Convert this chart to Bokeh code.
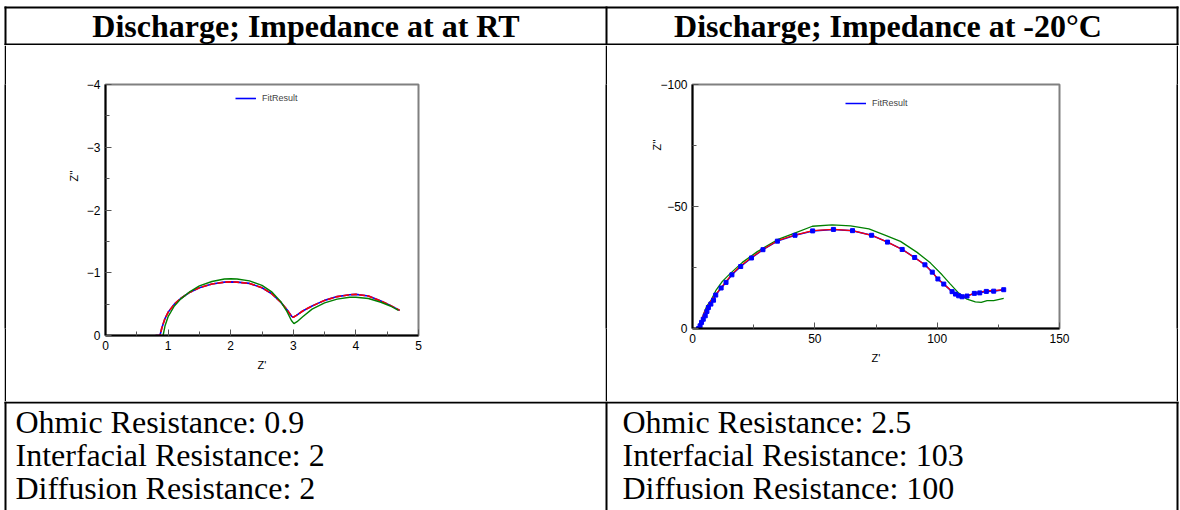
from bokeh.plotting import figure
from bokeh.layouts import column, row
from bokeh.models import Range1d, SingleIntervalTicker, Spacer, Title
from bokeh.core.properties import value
from bokeh.embed import file_html
from bokeh.resources import INLINE

# ---------------- data ----------------
header_texts = ["Discharge; Impedance at at RT", "Discharge; Impedance at  -20\u00b0C"]
left_rows = ["Ohmic Resistance:  0.9", "Interfacial Resistance: 2", "Diffusion Resistance: 2"]
right_rows = ["Ohmic Resistance:  2.5", "Interfacial Resistance: 103", "Diffusion Resistance: 100"]

# Room temperature (left chart)
rt_red_x = [0.80, 0.87, 0.90, 0.95, 1.0, 1.1, 1.2, 1.35, 1.5, 1.7, 1.9, 2.0, 2.1, 2.3, 2.5, 2.65,
            2.8, 2.9, 2.97, 3.0, 3.05, 3.15, 3.3, 3.5, 3.7, 3.9, 4.0, 4.2, 4.4, 4.55, 4.7]
rt_red_y = [0.0, 0.0, -0.12, -0.27, -0.37, -0.50, -0.59, -0.69, -0.76, -0.82, -0.85, -0.855, -0.85,
            -0.83, -0.76, -0.67, -0.53, -0.41, -0.31, -0.29, -0.32, -0.39, -0.47, -0.56, -0.62, -0.65,
            -0.655, -0.63, -0.55, -0.48, -0.40]
rt_fit_x = rt_red_x
rt_fit_y = rt_red_y
rt_green_x = [0.92, 0.95, 1.0, 1.1, 1.2, 1.35, 1.5, 1.7, 1.9, 2.0, 2.1, 2.3, 2.5, 2.65, 2.8, 2.9,
              2.97, 3.01, 3.06, 3.15, 3.3, 3.5, 3.7, 3.9, 4.0, 4.2, 4.4, 4.55, 4.68]
rt_green_y = [0.0, -0.15, -0.30, -0.47, -0.58, -0.70, -0.79, -0.86, -0.90, -0.905, -0.90, -0.87,
              -0.80, -0.70, -0.54, -0.38, -0.24, -0.19, -0.22, -0.30, -0.42, -0.52, -0.58, -0.61,
              -0.61, -0.59, -0.53, -0.47, -0.40]

# -20 C (right chart)
lt_fit_x = [2.5, 3.1, 3.7, 4.4, 5.2, 5.9, 6.5, 7.5, 8.6, 9.5, 11.7, 13.7, 16.1, 19.7, 24.1, 28.8,
            34.7, 41.9, 49.1, 57.6, 65.4, 73.2, 79.7, 85.7, 90.8, 95.0, 98.0, 100.3, 102.7, 106.1,
            107.5, 108.8, 110.2, 112.2, 115.2, 117.4, 120.1, 123.1, 127.2]
lt_fit_y = [0.0, -1.1, -2.5, -3.8, -5.2, -7.0, -8.6, -10.0, -11.6, -13.7, -16.6, -18.9, -22.0,
            -25.4, -28.9, -32.3, -35.8, -38.2, -40.0, -40.6, -40.1, -38.2, -35.4, -32.4, -29.1,
            -26.1, -23.1, -20.3, -18.2, -15.1, -14.1, -13.4, -13.0, -13.3, -14.4, -14.6, -15.2,
            -15.3, -15.9]
lt_red_x = [2.5, 4.8, 7.5, 11.6, 16.1, 19.7, 24.1, 28.8, 34.7, 41.9, 49.1, 57.6, 65.4, 73.2, 79.7,
            85.7, 90.7, 95.0, 98.0, 100.3, 102.7, 104.8, 106.1, 107.9, 110.2, 112.2, 115.0, 117.4,
            120.1, 123.1, 127.2]
lt_red_y = [0.0, -6.6, -11.4, -16.6, -22.3, -25.7, -29.1, -32.4, -36.0, -38.3, -40.1, -40.6, -40.1,
            -38.2, -35.4, -32.4, -29.1, -26.1, -23.1, -20.2, -18.2, -16.4, -15.0, -13.8, -13.0,
            -13.3, -14.4, -14.8, -15.5, -15.5, -15.9]
lt_green_x = [2.3, 3.4, 4.8, 5.9, 7.5, 9.5, 12.2, 15.6, 20.4, 26.5, 34.7, 41.5, 49.0, 57.1, 64.6,
              72.1, 78.9, 85.0, 91.8, 97.3, 102.0, 105.4, 108.8, 112.2, 115.6, 118.0, 120.4, 123.1,
              127.2]
lt_green_y = [0.0, -2.5, -6.6, -9.3, -11.4, -15.5, -19.3, -22.7, -27.1, -31.5, -36.4, -39.0, -41.9,
              -42.5, -42.1, -40.8, -38.2, -35.7, -31.2, -26.8, -22.0, -18.2, -14.5, -12.0, -10.9,
              -10.7, -11.4, -11.4, -12.3]

RED, BLUE, GREEN = "#ff0000", "#0000ff", "#008000"
SANS = "Liberation Sans"
SERIF = "Liberation Serif"

# ---------------- layout constants ----------------
W, H = 1180, 510
HEAD_H = 45
ROW_H = 356
TEXT_H = H - HEAD_H - ROW_H
VX = [5, 606, 1177]


def canvas(height, y0, y1):
    p = figure(width=W, height=height, x_range=Range1d(0, W), y_range=Range1d(y1, y0),
               output_backend="svg", toolbar_location=None, min_border=0,
               x_axis_location=None, y_axis_location=None)
    p.outline_line_color = None
    p.background_fill_color = "white"
    p.border_fill_color = "white"
    p.grid.visible = False
    return p


# header
head = canvas(HEAD_H, 0, HEAD_H)
head.segment(x0=[4, 4], y0=[7, 44], x1=[1178, 1178], y1=[7, 44],
             line_color="black", line_width=2)
head.segment(x0=VX, y0=[6] * 3, x1=VX, y1=[HEAD_H] * 3, line_color="black", line_width=2)
head.text(x=[305.5, 891.5], y=[25, 25], text=header_texts, text_font=value(SERIF),
          text_font_style="bold", text_font_size="32px", text_align="center",
          text_baseline="alphabetic", text_color="black")

# bottom text rows
foot = canvas(TEXT_H, HEAD_H + ROW_H, H)
foot.segment(x0=[4], y0=[402], x1=[1178], y1=[402], line_color="black", line_width=2)
foot.segment(x0=VX, y0=[HEAD_H + ROW_H] * 3, x1=VX, y1=[H] * 3, line_color="black", line_width=2)
foot.text(x=[15] * 3 + [622] * 3, y=[421, 454, 487] * 2, text=left_rows + right_rows,
          text_font=value(SERIF), text_font_size="32px", text_align="left",
          text_baseline="alphabetic", text_color="black")


def style_axes(p):
    for ax in (p.xaxis[0], p.yaxis[0]):
        ax.axis_line_color = "black"
        ax.axis_line_width = 2
        ax.major_tick_in = 6
        ax.major_tick_out = 0
        ax.minor_tick_in = 4
        ax.minor_tick_out = 0
        ax.major_tick_line_color = "#555555"
        ax.minor_tick_line_color = "#555555"
        ax.major_label_text_font = SANS
        ax.major_label_text_font_size = "12px"
        ax.major_label_text_color = "black"
        ax.major_label_standoff = 5
        ax.axis_label_text_font = SANS
        ax.axis_label_text_font_size = "11px"
        ax.axis_label_text_font_style = "normal"
        ax.axis_label_text_color = "black"
        ax.axis_label_standoff = 6
    p.xgrid.visible = False
    p.ygrid.visible = False
    p.outline_line_color = "#808080"
    p.outline_line_width = 2
    p.background_fill_color = "white"
    p.border_fill_color = "white"


def y_title(p, offset, standoff):
    # vertical axis title "Z''", anchored at the top of the frame and moved down by offset
    t = Title(text="Z''", align="right", offset=offset, standoff=standoff,
              text_font=SANS, text_font_size="11px", text_font_style="normal",
              text_color="black")
    p.add_layout(t, "left")


def style_legend(p, loc):
    lg = p.legend[0]
    lg.location = loc
    lg.border_line_color = None
    lg.background_fill_alpha = 0
    lg.label_text_font = SANS
    lg.label_text_font_size = "9px"
    lg.glyph_width = 21
    lg.glyph_height = 10
    lg.padding = 0
    lg.margin = 0
    lg.spacing = 0
    lg.label_standoff = 6
    lg.label_height = 10


# left chart
left = figure(frame_width=313, frame_height=251, min_border_left=99, min_border_right=187,
              min_border_top=35, min_border_bottom=70, x_range=Range1d(0, 5), y_range=Range1d(0, -4),
              output_backend="svg", toolbar_location=None, x_axis_label="Z'")
left.xaxis.ticker = SingleIntervalTicker(interval=1, num_minor_ticks=2)
left.yaxis.ticker = SingleIntervalTicker(interval=1, num_minor_ticks=2)
style_axes(left)
left.line(rt_fit_x, rt_fit_y, line_color=BLUE, line_width=1.6, legend_label="FitResult")
left.line(rt_red_x, rt_red_y, line_color=RED, line_width=1.6, line_dash="6 2")
left.line(rt_green_x, rt_green_y, line_color=GREEN, line_width=1.4)
y_title(left, 86, 8)
style_legend(left, (130, 232))

# right chart
right = figure(frame_width=367, frame_height=244, min_border_left=85, min_border_right=117,
               min_border_top=39, min_border_bottom=73, x_range=Range1d(0, 150),
               y_range=Range1d(0, -100), output_backend="svg", toolbar_location=None,
               x_axis_label="Z'")
right.xaxis.ticker = SingleIntervalTicker(interval=50, num_minor_ticks=2)
right.yaxis.ticker = SingleIntervalTicker(interval=50, num_minor_ticks=2)
style_axes(right)
right.line(lt_fit_x, lt_fit_y, line_color=BLUE, line_width=1.5, legend_label="FitResult")
right.line(lt_green_x, lt_green_y, line_color=GREEN, line_width=1.3)
right.line(lt_red_x, lt_red_y, line_color=RED, line_width=1.2)
right.scatter(lt_fit_x, lt_fit_y, marker="square", size=4, color=BLUE)
y_title(right, 55, -10)
style_legend(right, (153, 220))


def vbar():
    b = figure(width=2, height=ROW_H, min_border=0, output_backend="svg", toolbar_location=None,
               x_axis_location=None, y_axis_location=None)
    b.background_fill_color = "black"
    b.border_fill_color = "black"
    b.outline_line_color = None
    b.grid.visible = False
    return b


mid = row(Spacer(width=4, height=ROW_H), vbar(), left, vbar(), right, vbar(),
          Spacer(width=2, height=ROW_H), spacing=0)
page = column(head, mid, foot, spacing=0)

open("out.html", "w").write(file_html(page, INLINE))
